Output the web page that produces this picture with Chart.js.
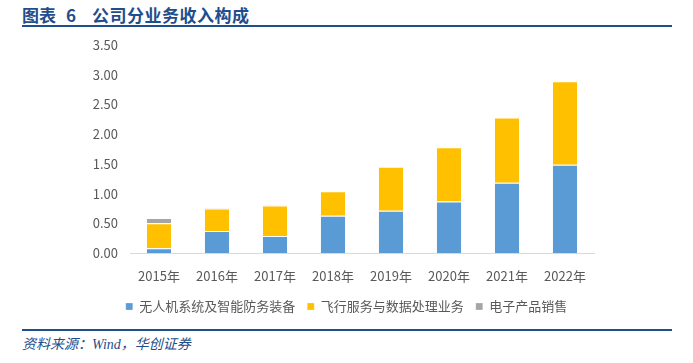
<!DOCTYPE html>
<html><head><meta charset="utf-8">
<script src="https://cdn.jsdelivr.net/npm/chart.js@4/dist/chart.umd.min.js"></script>
<style>
html,body{margin:0;padding:0;background:#fff;width:693px;height:363px;overflow:hidden;}
#title{position:absolute;left:22px;top:4px;font-family:"Noto Sans CJK SC";font-weight:bold;font-size:17px;color:#1F4E8C;line-height:22px;white-space:pre;}
#title span{display:inline-block;}
#line1{position:absolute;left:22px;top:25px;width:650px;height:2px;background:#1F4E8C;}
#line2{position:absolute;left:22px;top:329px;width:650px;height:2px;background:#1F4E8C;}
#src{position:absolute;left:22px;top:335px;font-family:"Liberation Serif","Noto Sans CJK SC";font-style:italic;font-size:14px;color:#1F4E8C;line-height:20px;}
#wrap{position:absolute;left:0;top:0;width:693px;height:330px;}
</style></head><body>
<div id="title"><span style="margin-right:10px">图表</span><span style="margin-right:16px">6</span><span style="letter-spacing:0.5px">公司分业务收入构成</span></div>
<div id="line1"></div>
<div id="wrap"><canvas id="c"></canvas></div>
<div id="line2"></div>
<div id="src">资料来源：Wind，华创证券</div>
<script>
const categories = ['2015年','2016年','2017年','2018年','2019年','2020年','2021年','2022年'];
const seriesNames = ['无人机系统及智能防务装备','飞行服务与数据处理业务','电子产品销售'];
const uavValues = [0.08, 0.37, 0.285, 0.625, 0.71, 0.865, 1.18, 1.485];
const flightValues = [0.42, 0.38, 0.515, 0.415, 0.74, 0.915, 1.10, 1.405];
const electronicsValues = [0.09, 0.01, 0.01, 0, 0, 0, 0, 0];
const colors = ['#5B9BD5','#FFC000','#A5A5A5'];
const FONT = '"Noto Sans CJK SC", sans-serif';

new Chart(document.getElementById('c'), {
  type: 'bar',
  data: {
    labels: categories,
    datasets: [
      {label: seriesNames[0], data: uavValues, backgroundColor: colors[0]},
      {label: seriesNames[1], data: flightValues, backgroundColor: colors[1]},
      {label: seriesNames[2], data: electronicsValues, backgroundColor: colors[2]}
    ].map(d => Object.assign(d, {borderColor:'#fff', borderWidth:{top:1,left:0,right:0,bottom:0}, barPercentage:0.42, categoryPercentage:1}))
  },
  options: {
    responsive: true, maintainAspectRatio: false, animation: false,
    layout: {padding: {top: 45, right: 0, left: 0, bottom: 7}},
    plugins: {
      tooltip: {enabled: false},
      legend: {
        position: 'bottom',
        labels: {boxWidth: 7, boxHeight: 7, color: '#595959', font: {family: FONT, size: 13}, padding: 12}
      }
    },
    scales: {
      x: {
        stacked: true,
        afterFit: s => { s.height = 35; },
        grid: {display: false, drawTicks: false},
        border: {color: '#D9D9D9', width: 1},
        ticks: {color: '#595959', font: {family: FONT, size: 13}, padding: 15}
      },
      y: {
        stacked: true, min: 0, max: 3.5,
        afterFit: s => { s.width = 130; },
        grid: {display: false, drawTicks: false},
        border: {display: false},
        ticks: {stepSize: 0.5, color: '#595959', font: {family: FONT, size: 13}, padding: 12,
          callback: v => v.toFixed(2)}
      },
      yRight: {
        position: 'right', min: 0, max: 3.5,
        afterFit: s => { s.width = 99; },
        grid: {display: false, drawTicks: false},
        border: {display: false},
        ticks: {display: false}
      }
    }
  }
});
</script>
</body></html>
